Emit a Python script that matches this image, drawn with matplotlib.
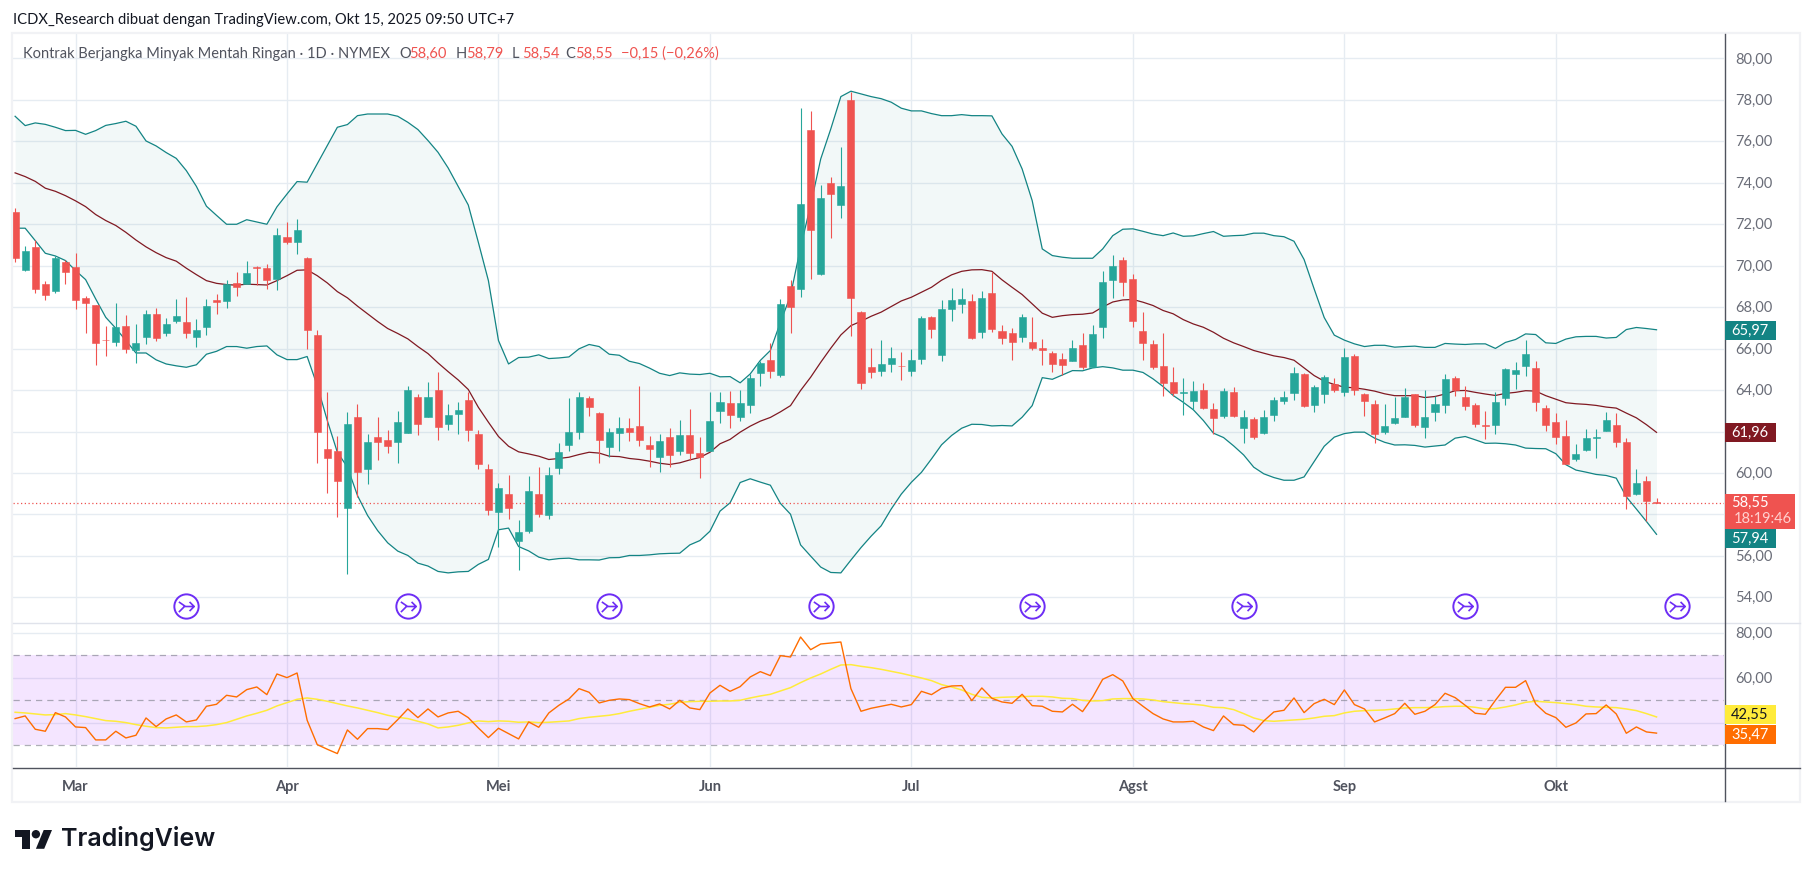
import matplotlib
matplotlib.use('Agg')
import matplotlib.pyplot as plt
import numpy as np
from matplotlib.patches import Rectangle, Polygon, Circle
from matplotlib.path import Path
from matplotlib.transforms import Affine2D, ScaledTranslation

plt.rcParams['font.family'] = ['Lato', 'DejaVu Sans']

W, H = 1814, 878

# candles, bar by bar
opens = [72.59,69.77,70.91,69.12,68.80,70.18,69.94,68.45,68.11,66.42,
         66.34,67.10,65.91,66.58,67.68,66.77,67.31,67.29,66.58,67.02,
         68.35,68.32,69.17,69.12,69.93,69.89,69.36,71.39,71.15,70.38,
         66.66,61.16,61.07,58.33,62.71,60.17,61.74,61.60,61.50,61.95,
         63.67,62.72,64.01,62.34,62.85,63.53,61.89,60.20,58.14,59.00,
         56.74,57.22,59.00,57.95,60.26,61.37,62.00,63.62,62.90,61.23,
         61.95,62.18,62.27,61.36,60.79,61.74,61.04,61.84,60.97,61.08,
         63.01,63.38,62.72,63.30,64.80,65.46,64.75,69.03,68.90,76.55,
         69.60,73.99,72.95,78.00,67.77,65.12,64.94,65.28,65.16,64.94,
         65.52,67.53,65.67,67.93,68.17,68.30,66.82,68.69,66.86,66.76,
         66.58,66.32,66.04,65.79,65.50,65.42,66.18,65.13,67.02,69.33,
         70.28,69.36,66.86,66.23,65.17,64.40,63.88,63.45,64.01,63.09,
         62.77,63.91,62.19,62.61,61.95,62.82,63.48,63.88,64.78,63.30,
         63.83,64.30,63.93,65.65,63.82,63.33,61.97,62.41,62.71,63.81,
         62.23,62.95,63.29,64.58,63.66,63.28,62.31,62.33,63.63,64.79,
         65.17,65.06,63.13,62.45,61.78,60.67,61.10,61.70,62.02,62.31,
         61.49,58.98,59.61,58.60]
closes = [70.39,70.71,68.90,68.61,70.38,69.72,68.37,68.22,66.29,66.40,
          67.05,66.00,66.28,67.68,66.53,67.19,67.58,66.73,66.90,68.06,
          68.27,69.12,68.99,69.65,69.90,69.32,71.49,71.15,71.73,66.92,
          62.00,60.70,59.59,62.37,60.07,61.50,61.50,61.31,62.47,64.01,
          62.37,63.67,62.24,62.80,63.04,62.05,60.41,58.19,59.28,58.33,
          57.16,59.14,58.04,59.91,61.02,61.98,63.67,63.16,61.61,61.98,
          62.18,62.00,61.57,61.18,61.55,60.89,61.84,60.94,60.75,62.51,
          63.43,62.82,63.38,64.59,65.31,64.94,68.16,68.03,72.98,71.74,
          73.27,73.48,73.85,68.46,64.36,64.89,65.26,65.55,65.14,65.46,
          67.48,66.97,67.92,68.35,68.40,66.53,68.45,66.97,66.49,66.34,
          67.53,66.04,65.91,65.28,65.23,66.04,65.13,66.71,69.22,69.99,
          69.23,67.31,66.29,65.12,64.32,63.88,63.92,63.96,63.14,62.63,
          63.96,62.77,62.71,61.76,62.71,63.53,63.67,64.83,63.25,64.15,
          64.64,63.98,65.60,63.98,63.45,61.86,62.26,62.65,63.66,62.33,
          62.70,63.32,64.53,64.00,63.24,62.37,62.29,63.42,65.01,64.96,
          65.73,63.44,62.33,61.75,60.43,60.91,61.68,61.73,62.55,61.49,
          58.90,59.51,58.64,58.55]
highs = [72.79,70.95,71.23,69.27,70.47,70.28,70.62,68.54,68.12,67.10,
         68.21,67.63,67.19,67.87,67.96,67.48,68.40,68.50,67.43,68.40,
         68.64,69.32,69.70,70.23,69.98,70.09,71.82,72.11,72.26,70.42,
         66.90,63.91,61.79,62.95,63.33,61.89,62.71,62.08,63.00,64.20,
         63.82,64.40,64.88,63.33,63.43,63.91,62.08,60.44,59.52,59.91,
         57.74,59.86,60.30,60.30,61.45,63.62,63.91,63.72,62.95,62.18,
         62.71,62.66,64.20,61.79,61.89,62.18,62.56,63.09,61.74,63.91,
         63.91,63.96,64.01,64.78,65.41,66.28,68.40,69.32,77.61,77.47,
         73.90,74.28,75.73,78.37,67.82,66.04,66.42,66.08,65.84,65.99,
         67.58,67.58,68.35,68.93,68.93,68.64,68.78,69.70,67.14,67.00,
         67.68,67.53,66.47,65.89,65.79,66.42,66.76,67.14,69.75,70.52,
         70.42,69.60,67.77,66.42,66.76,65.12,64.59,64.44,64.35,63.38,
         64.11,64.15,63.05,62.71,63.05,63.67,63.96,65.12,64.80,64.25,
         64.73,64.59,66.04,65.75,63.87,63.53,63.32,63.66,64.09,63.82,
         64.00,63.71,64.77,64.67,64.19,63.38,62.99,63.90,65.06,65.35,
         66.41,65.40,63.28,62.89,62.55,61.39,62.12,62.12,62.94,62.89,
         61.68,60.19,59.85,58.79]
lows = [70.20,69.75,68.70,68.37,68.66,69.14,67.93,66.77,65.23,65.62,
        66.15,65.81,65.33,66.20,66.39,66.63,67.24,66.49,66.10,66.68,
        67.69,67.98,68.56,69.10,69.09,68.88,68.83,71.05,70.57,66.00,
        60.50,59.01,57.90,55.15,58.82,59.49,60.65,60.94,60.46,61.93,
        61.81,62.70,61.57,62.05,61.86,61.52,60.17,57.95,56.45,57.80,
        55.34,57.08,57.90,57.80,59.93,61.04,61.66,62.77,60.50,60.79,
        61.04,61.52,61.32,60.31,60.07,60.31,60.89,60.65,59.78,61.07,
        62.43,62.19,62.53,62.87,64.22,64.60,64.65,66.73,68.51,69.38,
        69.55,71.36,72.32,66.63,64.03,64.56,64.70,64.85,64.51,64.70,
        65.28,66.53,65.42,67.35,67.74,66.48,66.53,66.82,66.24,65.47,
        66.34,65.95,65.23,64.85,64.75,65.38,65.04,65.09,66.53,68.46,
        68.56,67.06,65.46,65.02,63.69,63.69,62.82,63.06,63.11,61.90,
        62.63,62.72,61.47,61.66,61.86,62.53,63.33,63.54,63.16,62.96,
        63.40,63.93,63.69,63.74,62.77,61.47,61.88,62.36,62.70,62.23,
        61.70,62.52,62.91,63.73,63.05,62.23,61.65,61.89,63.29,64.05,
        64.69,63.00,62.04,61.41,60.41,60.57,61.05,60.72,62.01,61.25,
        58.26,58.96,57.68,58.54]

# bollinger bands
bb_upper = [77.21,76.76,76.89,76.82,76.68,76.52,76.53,76.34,76.52,76.77,
            76.86,76.97,76.73,76.02,75.78,75.46,75.18,74.59,73.83,72.87,
            72.43,72.00,72.00,72.22,72.11,72.00,72.84,73.46,74.06,74.03,
            74.91,75.79,76.68,76.81,77.24,77.32,77.32,77.32,77.21,76.92,
            76.57,76.04,75.47,74.72,73.83,72.93,71.13,69.28,66.39,65.26,
            65.57,65.59,65.70,65.52,65.55,
            65.60,65.99,66.20,66.10,65.73,65.68,65.39,65.28,65.06,64.81,
            64.70,64.83,64.77,64.75,64.81,64.64,64.65,64.35,64.78,65.43,
            65.91,67.27,68.56,70.89,72.93,75.15,76.60,78.16,78.42,78.29,
            78.16,78.06,77.89,77.60,77.47,77.47,77.34,77.24,77.24,77.29,
            77.24,77.24,77.23,76.36,75.76,74.67,73.14,70.81,70.49,70.41,
            70.36,70.36,70.36,70.81,71.45,71.76,71.78,71.66,71.53,71.45,
            71.58,71.42,71.44,71.55,71.65,
            71.42,71.45,71.47,71.57,71.57,71.45,71.40,71.18,70.30,68.88,
            67.50,66.65,66.41,66.23,66.10,66.16,66.16,
            66.07,66.10,66.12,66.06,66.06,66.25,66.22,66.20,66.23,66.23,
            66.01,66.30,66.44,66.71,66.68,66.28,66.25,66.46,66.57,66.59,
            66.59,66.51,66.54,66.92,67.02,66.97,66.91]
bb_mid = [74.48,74.30,74.07,73.74,73.59,73.38,73.13,72.85,72.47,72.18,
          71.94,71.61,71.24,70.91,70.63,70.39,70.22,69.88,69.57,69.28,
          69.15,69.09,69.06,69.11,69.09,69.07,69.28,69.52,
          69.78,69.80,69.52,69.17,68.75,68.45,68.05,67.68,67.31,66.97,
          66.73,66.47,66.10,65.76,65.31,64.89,64.49,64.03,63.17,62.45,
          61.76,61.29,61.02,60.92,60.81,60.65,60.70,
          60.76,60.89,61.00,60.96,60.81,60.79,60.70,60.65,60.57,60.47,
          60.41,60.49,60.63,60.75,61.00,61.41,61.62,61.97,62.26,62.50,
          62.68,62.95,63.25,63.98,64.62,65.34,66.02,66.66,67.11,67.32,
          67.56,67.76,68.03,68.30,68.48,68.72,68.96,69.30,69.56,69.73,
          69.80,69.81,69.73,69.32,68.96,68.61,68.16,67.71,67.51,67.59,
          67.64,67.66,67.72,68.01,68.25,68.35,68.37,68.24,68.08,67.84,
          67.68,67.40,67.19,67.03,66.79,
          66.50,66.28,66.10,65.91,65.78,65.65,65.57,65.44,65.07,64.70,
          64.43,64.27,64.14,64.11,64.04,63.95,63.82,
          63.73,63.73,63.73,63.64,63.69,63.81,63.97,63.98,63.89,63.81,
          63.74,63.84,63.89,63.97,63.95,63.73,63.56,63.39,63.34,63.31,
          63.26,63.18,63.13,62.89,62.66,62.33,61.96]
bb_lower = [71.81,71.81,71.21,70.60,70.47,70.25,69.77,69.33,68.40,67.51,
            66.98,66.39,65.79,65.79,65.46,65.26,65.17,65.10,65.22,65.73,
            65.87,66.10,66.10,66.02,66.10,66.13,65.70,65.47,
            65.47,65.62,64.22,62.53,61.00,60.28,58.91,57.95,57.22,56.63,
            56.23,56.02,55.65,55.51,55.25,55.18,55.23,55.25,55.59,55.83,
            57.26,57.34,56.45,56.24,55.94,55.81,55.87,
            55.89,55.81,55.81,55.80,55.91,55.92,56.02,56.02,56.05,56.10,
            56.12,56.13,56.53,56.74,57.19,58.16,58.56,59.54,59.72,59.56,
            59.41,58.53,58.01,56.53,55.99,55.46,55.20,55.18,
            55.80,56.40,56.95,57.45,58.26,58.98,59.55,60.03,
            60.68,61.36,61.81,62.16,62.35,62.34,62.27,62.29,62.27,62.69,
            63.25,64.60,64.52,64.73,64.94,64.93,65.07,65.13,65.07,
            64.96,64.96,64.85,64.54,64.17,63.74,63.41,63.05,62.53,61.92,
            61.71,61.31,60.87,60.28,59.96,59.78,59.65,59.65,59.81,60.55,
            61.29,61.73,61.90,61.97,61.97,61.68,61.48,
            61.35,61.36,61.33,61.25,61.30,61.35,61.68,61.76,61.60,61.43,
            61.44,61.41,61.35,61.20,61.18,61.17,60.93,60.40,60.14,60.04,
            59.93,59.88,59.75,58.85,58.26,57.66,57.04]

# rsi pane
rsi = [41.93,43.11,37.19,36.30,44.59,42.67,38.22,37.93,32.45,32.45,
       36.30,33.33,34.52,42.22,38.37,41.78,43.56,40.45,41.33,47.41,
       48.30,52.30,51.56,54.82,56.00,52.59,61.78,60.15,62.22,41.19,
       30.37,28.30,26.37,36.89,32.74,37.48,37.48,37.04,41.48,46.22,
       42.37,46.22,42.67,44.45,45.19,42.37,37.78,33.48,37.63,35.26,
       32.89,40.45,38.07,44.45,47.85,50.67,55.26,53.63,48.89,50.07,
       50.67,50.37,48.59,47.11,48.45,46.22,50.07,46.67,45.93,53.33,
       56.74,54.07,56.15,60.45,62.82,61.04,69.93,69.33,78.22,72.59,
       75.11,75.56,76.00,55.26,45.19,46.52,47.41,48.30,47.11,48.15,
       54.07,52.59,55.41,56.45,56.59,49.93,55.56,50.96,49.33,48.74,
       52.74,47.70,47.41,45.19,44.89,48.30,45.04,51.41,59.41,61.48,
       58.67,50.82,47.41,44.15,41.78,40.45,40.45,40.74,38.22,36.59,
       43.11,39.26,38.96,36.00,40.89,44.89,45.63,51.11,44.59,48.59,
       50.52,48.15,54.67,48.15,46.22,40.45,42.22,44.15,48.74,43.85,
       45.19,48.15,53.19,51.26,47.85,44.30,43.85,50.07,55.85,55.85,
       58.82,48.45,44.30,42.37,38.07,40.00,44.00,44.15,48.00,44.00,
       35.41,38.22,36.00,35.47]
rsi_ma = [44.74,44.45,44.00,43.56,43.70,44.15,43.56,42.81,41.93,41.04,
          40.74,40.15,39.26,38.52,37.93,37.78,38.07,38.37,38.37,38.67,
          39.26,40.15,41.63,43.11,44.30,45.63,47.56,49.04,50.52,51.11,
          50.52,49.63,48.59,47.56,46.67,45.63,44.59,43.41,42.52,41.93,
          40.74,39.56,37.78,38.22,38.96,40.00,40.89,40.59,40.89,40.74,
          40.30,40.45,40.15,40.30,40.59,40.89,41.93,42.52,42.96,43.41,
          44.15,45.19,46.07,46.96,47.85,48.30,49.19,49.48,49.63,49.63,
          49.78,49.78,50.07,51.11,52.00,52.74,54.22,55.70,57.93,60.00,
          61.78,63.85,65.78,65.93,65.19,64.59,63.85,62.96,62.07,61.04,
          60.00,58.82,57.04,56.00,54.67,52.74,51.41,51.11,51.41,51.56,
          51.70,51.85,51.85,51.56,50.96,50.82,50.07,49.78,49.93,50.67,
          50.82,50.82,50.67,50.22,49.48,49.04,48.59,48.30,47.85,46.96,
          46.81,45.93,44.15,42.22,41.04,40.74,41.04,41.33,41.63,42.22,
          42.96,43.26,44.45,45.19,45.48,45.63,45.78,46.22,46.67,46.81,
          46.81,46.96,47.26,47.41,47.41,46.96,46.22,46.37,47.11,48.00,
          49.19,49.63,49.33,49.04,48.59,48.15,47.41,47.11,46.96,46.81,
          46.22,45.48,44.15,42.67]

last_close = 58.55
price_ticks = [54, 56, 58, 60, 62, 64, 66, 68, 70, 72, 74, 76, 78, 80]
rsi_ticks = [40, 60, 80]
rsi_levels = [30, 50, 70]
covered_ticks = [58, 62, 40]  # hidden by the value boxes in the scale
month_idx = [6, 27, 48, 69, 89, 111, 132, 153]
month_labels = ['Mar', 'Apr', 'Mei', 'Jun', 'Jul', 'Agst', 'Sep', 'Okt']
event_idx = [17, 39, 59, 80, 101, 122, 144, 165]
event_level = 53.6

UP = '#26a69a'
DOWN = '#ef5350'
BAND = '#138484'
MID = '#801922'
GRID = '#e6ecf2'
AXIS = '#50535e'
LABEL = '#6a6d78'
INK = '#131722'


def fx(x):
    return x / W


def fy(y):
    return 1 - y / H


# overlay artists are placed in image pixels, y going down
px = Affine2D().scale(1, -1).translate(0, H)


def add_axes_px(left, top, right, bottom):
    return fig.add_axes([fx(left), fy(bottom), (right - left) / W, (bottom - top) / H])


def fig_text(x, y, s, **kw):
    kw.setdefault('va', 'center')
    fig.text(fx(x), fy(y), s, zorder=21, **kw)


def price_box(top, bottom, right, color):
    fig.add_artist(Rectangle((1724.5, top), right - 1724.5, bottom - top, transform=px,
                             facecolor=color, edgecolor='none', zorder=20))


def style_axes(ax, ticks):
    ax.set_xlim(-0.21, 169.7)
    ax.set_xticks(month_idx)
    ax.set_yticks(ticks)
    ax.grid(True, color=GRID, lw=1.0)
    ax.set_axisbelow(True)
    ax.yaxis.tick_right()
    ax.set_yticklabels(['' if t in covered_ticks else f'{t:.2f}'.replace('.', ',') for t in ticks])
    ax.tick_params(axis='y', length=0, pad=8, labelsize=10.5, labelcolor=LABEL)
    lift = ScaledTranslation(0, 1.5 / 100, fig.dpi_scale_trans)
    for t in ax.get_yticklabels():
        t.set_transform(t.get_transform() + lift)
    for s in ax.spines.values():
        s.set_visible(False)


fig = plt.figure(figsize=(W / 100, H / 100), dpi=100, facecolor='white')

# main pane
ax = add_axes_px(13, 35, 1724, 623)
ax.set_ylim(52.81, 81.18)
style_axes(ax, price_ticks)
ax.tick_params(axis='x', length=0, labelbottom=False)

x = np.arange(len(closes))
o = np.array(opens)
c = np.array(closes)
colors = [UP if b >= a else DOWN for a, b in zip(opens, closes)]

ax.fill_between(x, bb_lower, bb_upper, color=BAND, alpha=0.05, lw=0, zorder=1)
ax.plot(x, bb_upper, color=BAND, lw=0.9, zorder=2)
ax.plot(x, bb_lower, color=BAND, lw=0.9, zorder=2)
ax.plot(x, bb_mid, color=MID, lw=0.9, zorder=2)
ax.axhline(last_close, color=DOWN, lw=0.9, ls=(0, (1, 2)), zorder=2)

ax.vlines(x, lows, highs, colors=colors, lw=0.8, zorder=3)
ax.bar(x, np.abs(c - o), bottom=np.minimum(o, c), width=0.7, color=colors,
       edgecolor=colors, lw=0.4, zorder=4)

# event markers under the candles
arrow = Path([(-0.75, 0.45), (-0.1, 0.0), (0.75, 0.0), (0.3, 0.45), (0.75, 0.0), (0.3, -0.45),
              (-0.2, 0.0), (-0.75, -0.55)],
             [Path.MOVETO, Path.LINETO, Path.LINETO, Path.MOVETO, Path.LINETO, Path.LINETO,
              Path.MOVETO, Path.LINETO])
ax.plot(event_idx, [event_level] * len(event_idx), ls='none', marker='o', ms=17.5, mfc='white',
        mec='#6d2df5', mew=1.4, clip_on=False, zorder=5)
ax.plot(event_idx, [event_level] * len(event_idx), ls='none', marker=arrow, ms=11, mfc='none',
        mec='#6d2df5', mew=1.2, clip_on=False, zorder=6)

# rsi pane
ax2 = add_axes_px(13, 623, 1724, 768)
ax2.set_ylim(20.4, 84.9)
style_axes(ax2, rsi_ticks)
ax2.axhspan(rsi_levels[0], rsi_levels[2], color='#9c00ff', alpha=0.1, lw=0, zorder=1)
for lev in rsi_levels:
    ax2.axhline(lev, color='#787b86', lw=0.9, ls=(0, (5, 4)), alpha=0.6, zorder=2)
ax2.plot(x, rsi_ma, color='#ffeb3b', lw=1.1, zorder=3)
ax2.plot(x, rsi, color='#ff6d00', lw=1.0, zorder=4)
ax2.set_xticklabels(month_labels)
ax2.tick_params(axis='x', length=0, pad=8.5, labelsize=10.5, labelcolor=AXIS)
for t in ax2.get_xticklabels():
    t.set_fontweight('bold')

# frame and pane separators
fig.add_artist(Rectangle((12, 34), 1788, 768.5, transform=px, fill=False, edgecolor='#f1f2f5',
                         lw=1.6, zorder=15))
fig.add_artist(plt.Line2D([13, 1800], [623.5, 623.5], transform=px, color='#e0e3eb', lw=1.0, zorder=16))
fig.add_artist(plt.Line2D([13, 1800], [768.5, 768.5], transform=px, color=AXIS, lw=1.0, zorder=16))
fig.add_artist(plt.Line2D([1724.5, 1724.5], [35, 802], transform=px, color=AXIS, lw=1.0, zorder=16))

# value labels on the price scale
price_box(322, 341, 1776, BAND)
fig_text(1750, 331, '65,97', color='white', ha='center', fontsize=10.5)
price_box(424, 443, 1776, MID)
fig_text(1750, 433, '61,96', color='white', ha='center', fontsize=10.5)
price_box(495, 530, 1795, DOWN)
fig_text(1750, 503, '58,55', color='white', ha='center', fontsize=10.5)
fig_text(1763, 519, '18:19:46', color='#ffd0cf', ha='center', fontsize=10.5)
price_box(530, 548.5, 1776, BAND)
fig_text(1750, 539, '57,94', color='white', ha='center', fontsize=10.5)
price_box(706, 725, 1776, '#ffeb3b')
fig_text(1750, 715, '42,55', color=INK, ha='center', fontsize=10.5)
price_box(726, 745, 1776, '#ff6d00')
fig_text(1750, 735, '35,47', color='white', ha='center', fontsize=10.5)

# header and legend
fig_text(13, 20, 'ICDX_Research dibuat dengan TradingView.com, Okt 15, 2025 09:50 UTC+7',
         color=INK, fontsize=10.6)
fig_text(23, 54, 'Kontrak Berjangka Minyak Mentah Ringan · 1D · NYMEX', color=AXIS, fontsize=10.5)
for xp, letter, val in [(399, 'O', '58,60'), (456, 'H', '58,79'), (512, 'L', '58,54'), (565, 'C', '58,55')]:
    fig_text(xp, 54, letter, color=AXIS, fontsize=10.5)
    fig_text(xp + 10, 54, val, color=DOWN, fontsize=10.5)
fig_text(621, 54, '−0,15 (−0,26%)', color=DOWN, fontsize=10.5)

# TradingView logo
logo_t = [(29.6, 849.8), (22.3, 849.8), (22.3, 838.3), (15, 838.3), (15, 831), (29.6, 831)]
logo_slash = [(44.2, 849.8), (35.9, 849.8), (43.7, 831), (52, 831)]
for pts in [logo_t, logo_slash]:
    fig.add_artist(Polygon(pts, transform=px, facecolor=INK, edgecolor='none', zorder=20))
fig.add_artist(Circle((35.9, 835.2), 4.2, transform=px, facecolor=INK, edgecolor='none', zorder=20))
fig_text(61, 839, 'TradingView', color=INK, fontsize=18, family=['Inter', 'DejaVu Sans'],
         fontweight='semibold')

fig.savefig('out.png', dpi=100)
